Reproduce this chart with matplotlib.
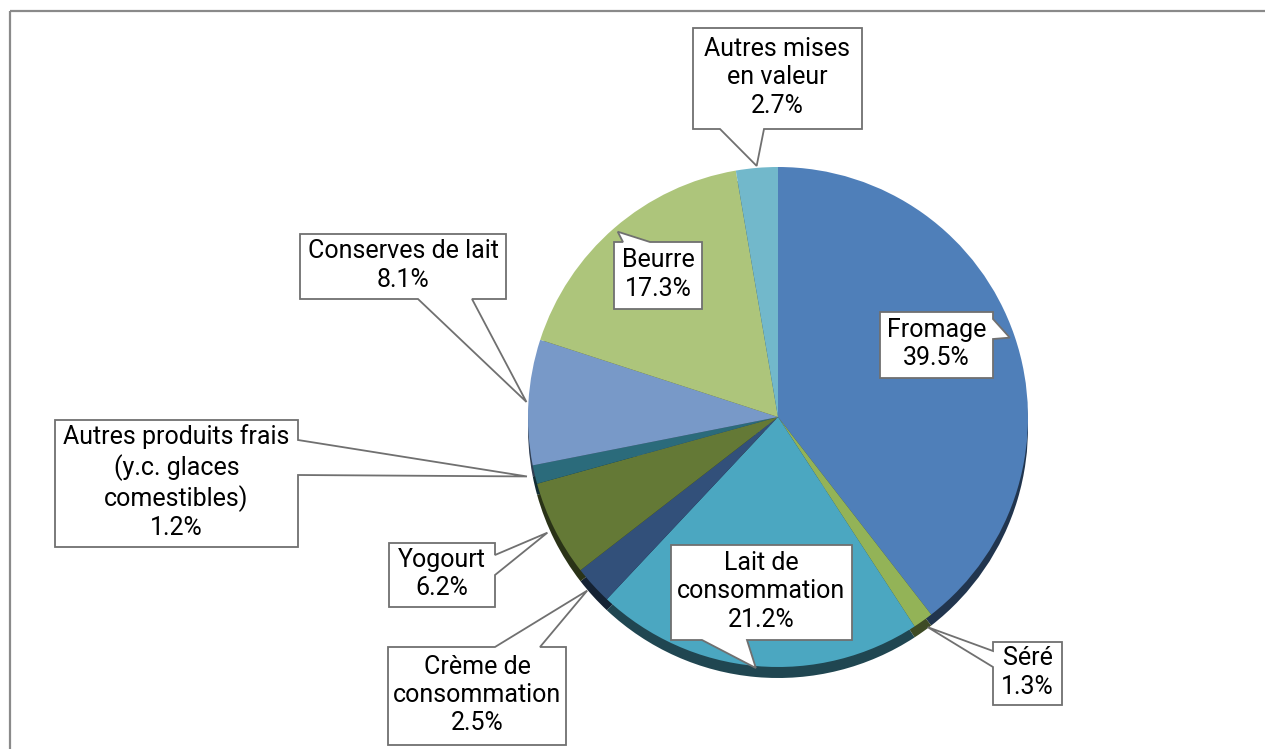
import matplotlib.pyplot as plt
import numpy as np
from matplotlib.patches import Polygon
from matplotlib.colors import to_rgb

plt.rcParams['font.family'] = ['Roboto', 'DejaVu Sans']

# data
labels = ['Fromage', 'Séré', 'Lait de\nconsommation', 'Crème de\nconsommation',
          'Yogourt', 'Autres produits frais\n(y.c. glaces\ncomestibles)',
          'Conserves de lait', 'Beurre', 'Autres mises\nen valeur']
values = [39.5, 1.3, 21.2, 2.5, 6.2, 1.2, 8.1, 17.3, 2.7]
colors = ['#4f7fb9', '#93b357', '#4ba7c1', '#32507a', '#647936',
          '#2b6b7b', '#7899c8', '#adc57b', '#72b8cb']

W, H = 1265, 749
cx, cy, R = 778, H - 417, 250

# callout layout: box (x0, y0, x1, y1) in pixels from top-left, side, base, tip radius
boxes = [(880, 312, 993, 378), (993, 642, 1062, 705), (671, 545, 852, 640),
         (388, 647, 566, 745), (389, 543, 495, 607), (55, 420, 298, 547),
         (300, 234, 506, 299), (614, 242, 702, 309), (693, 28, 862, 129)]
sides = ['right', 'left', 'bottom', 'top', 'right', 'right', 'bottom', 'top', 'bottom']
bases = [(319, 339), (651, 667), (702, 747), (495, 540), (555, 575), (440, 475),
         (418, 472), (623, 650), (720, 764)]
tip_r = [245, 258, 252, 258, 258, 258, 252, 245, 252]

fig = plt.figure(figsize=(W / 100, H / 100), dpi=100)
ax = fig.add_axes([0, 0, 1, 1])

# dark rim underneath (3d look)
dark = [tuple(c * 0.42 for c in to_rgb(col)) for col in colors]
ax.pie(values, colors=dark, startangle=90, counterclock=False, radius=R,
       center=(cx, cy - 11), wedgeprops=dict(linewidth=0))
ax.pie(values, colors=colors, startangle=90, counterclock=False, radius=R,
       center=(cx, cy), wedgeprops=dict(linewidth=0))


def callout(box, side, base, tip):
    x0, y0, x1, y1 = box
    a, b = base
    if side == 'top':
        pts = [(x0, y0), (a, y0), None, (b, y0), (x1, y0), (x1, y1), (x0, y1)]
    elif side == 'right':
        pts = [(x0, y0), (x1, y0), (x1, a), None, (x1, b), (x1, y1), (x0, y1)]
    elif side == 'bottom':
        pts = [(x0, y0), (x1, y0), (x1, y1), (b, y1), None, (a, y1), (x0, y1)]
    else:
        pts = [(x0, y0), (x1, y0), (x1, y1), (x0, y1), (x0, b), None, (x0, a)]
    return [tip if p is None else (p[0], H - p[1]) for p in pts]


cum = np.cumsum([0] + values[:-1])
for i, (lab, v) in enumerate(zip(labels, values)):
    theta = np.deg2rad(90 - 360 * (cum[i] + v / 2) / 100)
    tip = (cx + tip_r[i] * np.cos(theta), cy + tip_r[i] * np.sin(theta))
    pts = callout(boxes[i], sides[i], bases[i], tip)
    ax.add_patch(Polygon(pts, closed=True, fc='white', ec='#707070', lw=1.3,
                         zorder=5, joinstyle='miter'))
    x0, y0, x1, y1 = boxes[i]
    ax.text((x0 + x1) / 2, H - (y0 + y1) / 2 + 1, f'{lab}\n{v:.1f}%',
            ha='center', va='center', fontsize=18, linespacing=1.22,
            color='black', zorder=6)

# frame
ax.plot([10, 10], [0, H - 11], color='#8a8a8a', lw=1.6, solid_capstyle='butt')
ax.plot([10, W], [H - 11, H - 11], color='#8a8a8a', lw=1.6, solid_capstyle='butt')

ax.set_aspect('auto')
ax.set_xlim(0, W)
ax.set_ylim(0, H)
ax.axis('off')
fig.savefig('out.png', dpi=100)
